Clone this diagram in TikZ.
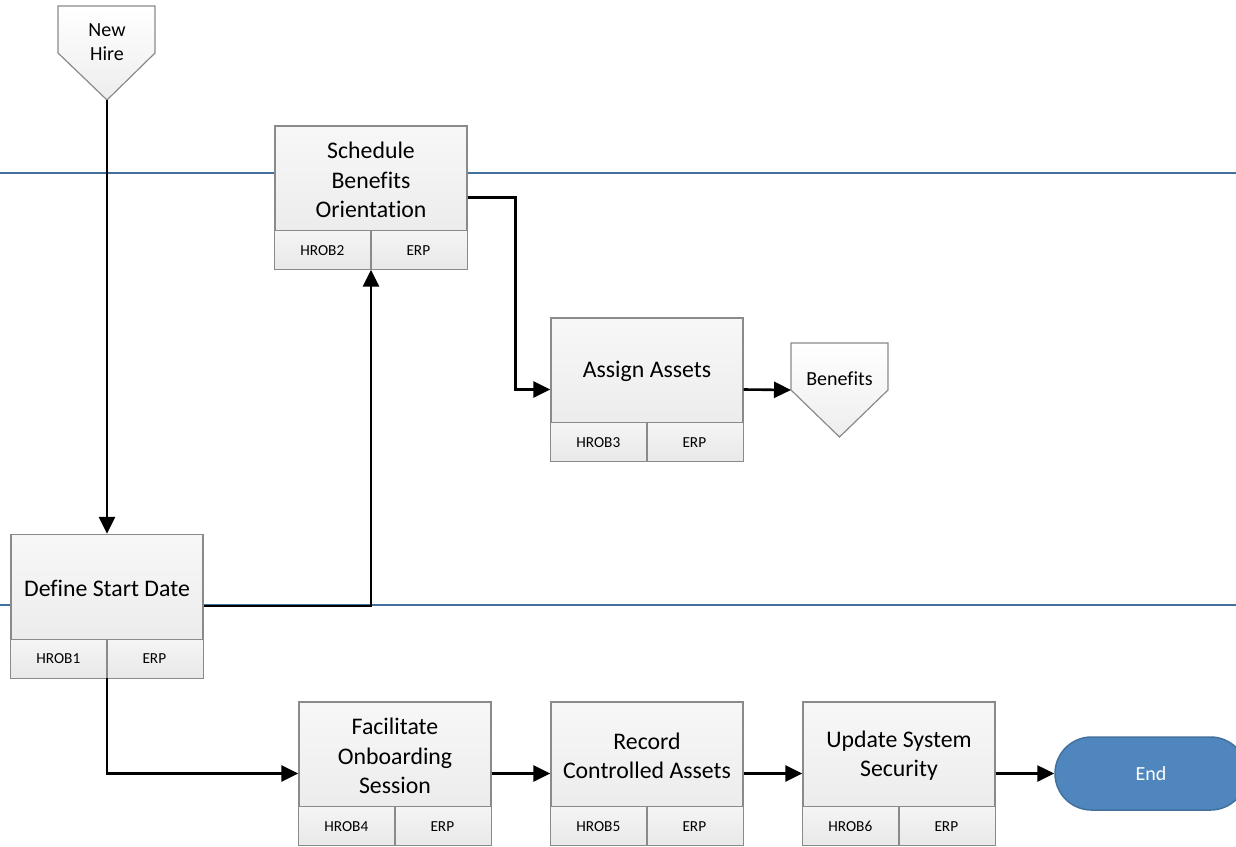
\documentclass[tikz,border=0pt]{standalone}
\usepackage{fontspec}
\setmainfont{Carlito}[Ligatures=NoCommon]
\usetikzlibrary{arrows.meta,calc,shapes.misc}
\definecolor{lanecol}{HTML}{41719C}
\definecolor{endfill}{HTML}{4F86BD}
\definecolor{endline}{HTML}{41719C}
\definecolor{boxline}{HTML}{8A8A8A}
\tikzset{
  lane/.style={draw=lanecol, line width=1.8pt},
  procbox/.style={draw=boxline, line width=1.3pt, minimum width=192pt, minimum height=143pt, inner sep=0pt, top color=white!97!black, bottom color=black!9},
  stripfill/.style={top color=white!96!black, bottom color=black!9},
  boxedge/.style={draw=boxline, line width=1.3pt},
  maintext/.style={align=center, font=\fontsize{23.8}{29.5}\selectfont, inner sep=0pt},
  subtext/.style={font=\fontsize{15.3}{17}\selectfont, inner sep=0pt},
  offtext/.style={align=center, font=\fontsize{20}{24}\selectfont, inner sep=0pt},
  offpage/.style={draw=boxline, line width=1.2pt, top color=white, bottom color=black!7},
  conn/.style={draw=black, line width=2.6pt, -{Triangle[length=17pt,width=16pt]}},
  endnode/.style={rounded rectangle, draw=endline, fill=endfill, line width=1.5pt, minimum width=192pt, minimum height=73pt, inner sep=0pt, text=white, font=\fontsize{20}{24}\selectfont},
}
\newcommand{\procshape}[5]{% name, cx, cy, text, id
  \node[procbox] (#1) at (#2,#3) {};
  \shade[stripfill] ($(#1.south west)+(0,-39)$) rectangle (#1.south east);
  \draw[boxedge] (#1.south west) rectangle ($(#1.south east)+(0,-39)$);
  \draw[boxedge] (#1.south) -- ++(0,-39);
  \node[maintext] (#1-t) at ($(#1.north)+(0,54.5)$) {#4};
  \node[subtext] (#1-id) at ($(#1.south west)+(48,-19.5)$) {#5};
  \node[subtext] (#1-sys) at ($(#1.south west)+(144,-19.5)$) {ERP};
}
\begin{document}
\begin{tikzpicture}[x=1pt,y=-1pt]
\useasboundingbox (0,0) rectangle (1236,846);
% swimlane lines
\draw[lane] (0,173) -- (1236,173);
\draw[lane] (0,605) -- (1236,605);
% off-page connectors
\path[offpage] (58,6) -- (155,6) -- (155,53) -- (107,100) -- (58,53) -- cycle;
\coordinate (newhire-tip) at (107,100);
\node[offtext] (newhire) at (107,42.5) {New\\Hire};
\path[offpage] (791,343) -- (888,343) -- (888,390) -- (839.5,437) -- (791,390) -- cycle;
\coordinate (benefits-in) at (791,390);
\node[offtext] (benefits) at (839.5,379) {Benefits};
% processes
\procshape{sched}{371}{197.5}{Schedule\\Benefits\\Orientation}{HROB2}
\procshape{assign}{647}{389.5}{Assign Assets}{HROB3}
\procshape{define}{107}{606}{Define Start Date}{HROB1}
\procshape{facil}{395}{773.5}{Facilitate\\Onboarding\\Session}{HROB4}
\procshape{record}{647}{773.5}{Record\\Controlled Assets}{HROB5}
\procshape{update}{899}{773.5}{Update System\\Security}{HROB6}
\node[endnode] (end) at (1151,773.5) {End};
% connectors
\draw[conn] (newhire-tip) -- (define.north);
\draw[conn] (define.east) -| (sched.south);
\draw[conn] (sched.east) -- ++(48,0) |- (assign.west);
\draw[conn] (assign.east) -- (benefits-in);
\draw[conn] (define.south) |- (facil.west);
\draw[conn] (facil.east) -- (record.west);
\draw[conn] (record.east) -- (update.west);
\draw[conn] (update.east) -- (end.west);
\end{tikzpicture}
\end{document}
